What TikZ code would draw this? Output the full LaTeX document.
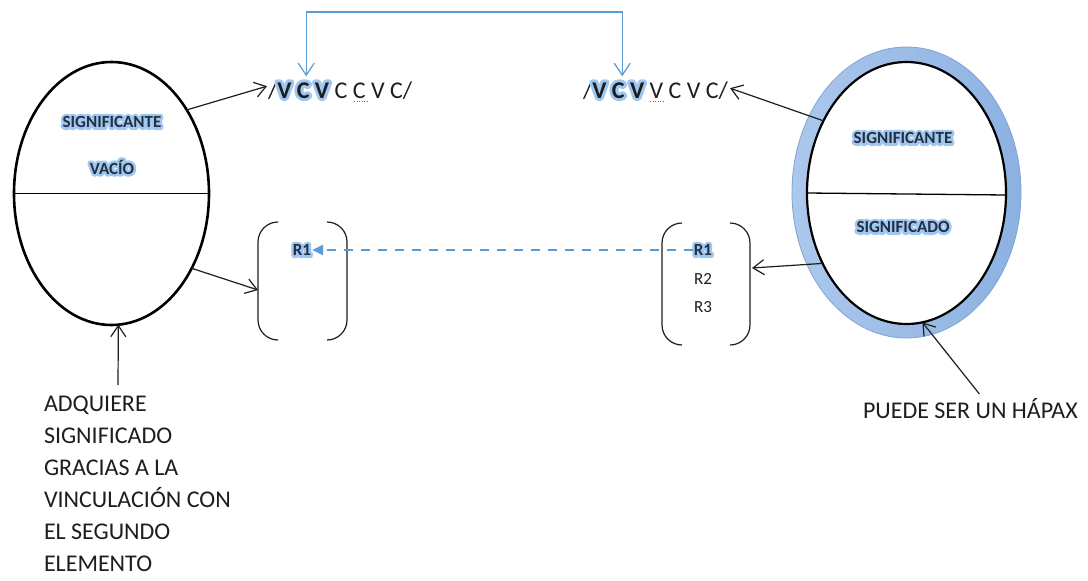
\documentclass[tikz,border=0pt]{standalone}
\usepackage{fontspec}
\setmainfont{Carlito}
\usetikzlibrary{arrows.meta,shapes.geometric}
\definecolor{conn}{RGB}{91,155,213}
\definecolor{glowA}{RGB}{160,199,240}
\definecolor{ink}{RGB}{30,30,30}
\definecolor{lab}{RGB}{35,48,66}
\definecolor{ringL}{RGB}{172,200,236}
\definecolor{ringR}{RGB}{140,177,225}
\definecolor{ringE}{RGB}{125,165,215}
\definecolor{spell}{RGB}{220,60,60}
\newcommand\glowit[2][5]{\rlap{\color{glowA}\special{pdf:literal direct 1 Tr #1 w 1 j}#2\special{pdf:literal direct 0 Tr}}#2}
\begin{document}
\begin{tikzpicture}[x=1pt,y=-1pt,
  every node/.style={inner sep=0pt,outer sep=0pt},
  big/.style={font=\fontsize{24}{32}\selectfont,text=ink},
  lbl/.style={font=\fontsize{17}{20}\selectfont\bfseries,text=lab},
  rr/.style={font=\fontsize{17}{20}\selectfont,text=ink},
  rrb/.style={font=\fontsize{17}{20}\selectfont\bfseries,text=lab},
  arr/.style={draw=ink,line width=1.2pt,-{Straight Barb[length=11pt,width=15pt]}},
  barr/.style={draw=conn,line width=1.2pt,{Straight Barb[length=12pt,width=16pt]}-{Straight Barb[length=12pt,width=16pt]}},
  dasharr/.style={draw=conn,line width=2.4pt,dash pattern=on 9pt off 8pt,-{Triangle[length=11pt,width=10pt]}},
  paren/.style={draw=ink,line width=1.2pt,rounded corners=20pt},
  box/.style={draw=none,rectangle}
]
\useasboundingbox (0,0) rectangle (1088,581);
\fill[white] (0,0) rectangle (1088,581);

% left ellipse
\node[ellipse,draw=black,line width=2.6pt,minimum width=195pt,minimum height=263pt] (L) at (111.5,193.5) {};
\draw[line width=1.8pt] (L.west) -- (L.east);
\node[lbl] (sig1) at (112,122) {\glowit{SIGNIFICANTE}};
\node[lbl] (vac) at (112,167) {\glowit{VACÍO}};

% right ellipse
\node[ellipse,draw=ringE,line width=0.8pt,left color=ringL,right color=ringR,minimum width=229pt,minimum height=291pt] (Ro) at (906.5,192.5) {};
\node[ellipse,draw=black,fill=white,line width=2.2pt,minimum width=199pt,minimum height=262pt] (R) at (906.5,193) {};
\draw[line width=1.3pt] (R.west) -- ([yshift=-2pt]R.east);
\node[lbl] (sig2) at (903,138) {\glowit{SIGNIFICANTE}};
\node[lbl] (sigdo) at (903,227) {\glowit{SIGNIFICADO}};

% phonetic strings
\node[big,anchor=base west] (sl1) at (268,98) {/};
\node[big,anchor=base west] (v1) at (sl1.base east) {\glowit[6]{\bfseries V C V}};
\node[big,anchor=base west] (q1) at (v1.base east) {\ C C V C/};
\node[big,anchor=base west] (sl2) at (583,98) {/};
\node[big,anchor=base west] (v2) at (sl2.base east) {\glowit[6]{\bfseries V C V}};
\node[big,anchor=base west] (q2) at (v2.base east) {\ V C V C/};

% top blue connector
\coordinate (topc) at (465,12);
\draw[barr] ([xshift=3pt,yshift=6pt]v1.north) |- (topc) -| ([xshift=4pt,yshift=6pt]v2.north);

% brackets
\node[box,minimum width=89pt,minimum height=118pt] (B1) at (302.5,281) {};
\draw[paren] ([xshift=19pt]B1.north west) -| (B1.west) |- ([xshift=19pt]B1.south west);
\draw[paren] ([xshift=-20pt]B1.north east) -| (B1.east) |- ([xshift=-20pt]B1.south east);
\node[box,minimum width=88pt,minimum height=122pt] (B2) at (706,284) {};
\draw[paren] ([xshift=20pt]B2.north west) -| (B2.west) |- ([xshift=20pt]B2.south west);
\draw[paren] ([xshift=-20pt]B2.north east) -| (B2.east) |- ([xshift=-20pt]B2.south east);

\node[rrb] (r1a) at (302,250) {\glowit{R1}};
\node[rrb] (r1b) at (703,250) {\glowit{R1}};
\node[rr] (r2) at (703,279) {R2};
\node[rr] (r3) at (703,307) {R3};
\draw[dasharr] ([xshift=-1pt]r1b.west) -- ([xshift=1pt]r1a.east);

% black arrows
\draw[arr] (L.48) -- ([xshift=-1pt,yshift=4pt]sl1.west);
\draw[arr] (L.-43) -- ([yshift=-9pt]B1.west);
\draw[arr] (R.139) -- ([xshift=2pt,yshift=2pt]q2.east);
\draw[arr] (R.220) -- ([xshift=2pt,yshift=16pt]B2.east);

% texts
\node[big,anchor=north west,align=left] (adq) at (44,396) {ADQUIERE\\SIGNIFICADO\\GRACIAS A LA\\VINCULACIÓN CON\\EL SEGUNDO\\ELEMENTO};
\coordinate (upstart) at (118,385);
\draw[arr] (upstart) -- (L.-87);
\node[big,anchor=base west] (pu) at (863,418) {PUEDE SER UN HÁPAX};
\draw[arr] ([xshift=9pt,yshift=4pt]pu.north) -- (R.-83);

% spell-check marks
\draw[spell,line width=0.7pt,dash pattern=on 1pt off 1.6pt] (354,101) -- (368,101);
\draw[spell,line width=0.7pt,dash pattern=on 1pt off 1.6pt] (650,101) -- (665,101);
\end{tikzpicture}
\end{document}
